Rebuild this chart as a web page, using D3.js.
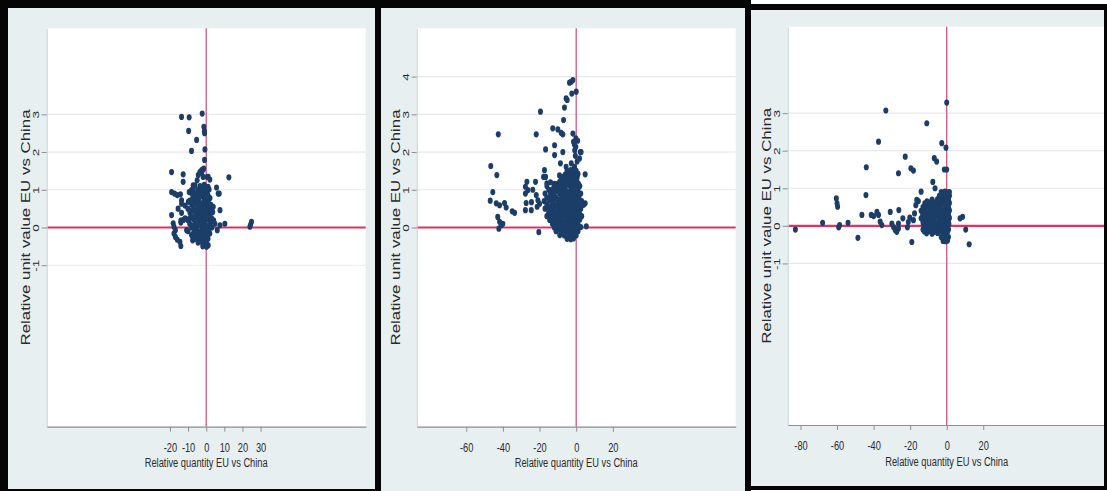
<!DOCTYPE html>
<html>
<head>
<meta charset="utf-8">
<script src="https://cdn.jsdelivr.net/npm/d3@7/dist/d3.min.js"></script>
<style>
  html, body { margin: 0; padding: 0; background: #ffffff; }
  svg { display: block; }
  text { font-family: "Liberation Sans", Arial, "DejaVu Sans", sans-serif; fill: #2a2a2a; }
</style>
</head>
<body>
<svg id="chart" width="1107" height="491"></svg>
<script>
// ---------------- DATA ----------------
const xAxisTitle = "Relative quantity EU vs China";
const yAxisTitle = "Relative unit value EU vs China";

const p1XTicks = [-20, -10, 0, 10, 20, 30];
const p1YTicks = [-1, 0, 1, 2, 3];
const p2XTicks = [-60, -40, -20, 0, 20];
const p2YTicks = [0, 1, 2, 3, 4];
const p3XTicks = [-80, -60, -40, -20, 0, 20];
const p3YTicks = [-1, 0, 1, 2, 3];

// Panel 1: scattered points
const p1Outer = [
  [-13.6,2.93],[-9.4,2.92],[-2.2,3.02],[-9.7,2.56],[-1.3,2.67],[-1.0,2.55],[-0.9,2.5],[-5.3,2.32],
  [-8.1,2.03],[-0.7,2.07],[-0.9,1.79],[-1.4,1.56],[-2.2,1.5],[-2.8,1.45],[-19.1,1.47],[-12.7,1.41],
  [-12.7,1.21],[0.6,1.34],[12.5,1.33],[-4.4,1.39],[2.0,1.27],[5.7,1.06],[6.6,0.9],[-19.1,0.94],
  [-17.5,0.9],[-16.0,0.86],[-14.2,0.88],[-13.6,0.72],[-15.5,0.5],[7.6,0.46],[2.0,0.53],[-19.1,0.33],
  [-18.2,0.11],[-17.8,0.02],[-17.0,-0.07],[-17.8,-0.16],[-17.0,-0.25],[-16.0,-0.32],[-14.5,-0.38],
  [-14.0,-0.49],[7.6,0.06],[10.3,0.1],[24.1,0.02],[25.0,0.15],[24.5,0.08],[0.6,-0.47],[-1.9,-0.5],
  [6.1,-0.07],[-13.6,0.63],[-11.7,0.58],[-9.9,0.68],[-9.4,0.94],[-8.1,0.99],[-7.2,1.12],[-5.0,1.25],
  [-3.5,1.47],[-2.5,1.52],[-1.7,1.34],[1.1,1.34],[7.2,0.9],[3.9,0.55],[3.0,0.24],[4.8,0.1],
  [2.0,-0.16],[-1.7,-0.42],[1.1,-0.47],[0.2,-0.51],[-4.4,-0.34],[-3.5,-0.25],[-6.2,-0.16],
  [-11.6,0.24],[-12.6,0.2],[-13.6,0.39],[-14.0,0.18],[-7.2,-0.29],[-7.5,-0.34],[-10.8,-0.07],[-14.0,0.13]
];
// Panel 1: dense core
const p1Core = [
  [-6.2,1.12],[-3.4,1.1],[-1.1,1.13],[1.0,1.08],
  [-7.1,1.02],[-4.6,1.0],[-2.4,1.03],[-0.4,0.99],[1.6,1.01],
  [-8.2,0.92],[-5.9,0.9],[-3.1,0.93],[-1.6,0.89],[0.5,0.91],
  [-7.4,0.81],[-5.1,0.79],[-2.0,0.82],[0.1,0.8],[2.1,0.78],
  [-9.1,0.71],[-6.6,0.7],[-4.0,0.72],[-1.1,0.69],[1.2,0.71],
  [-8.0,0.6],[-5.4,0.62],[-3.0,0.59],[-0.6,0.61],[2.6,0.6],
  [-10.1,0.5],[-7.1,0.51],[-4.4,0.49],[-2.1,0.5],[0.4,0.52],
  [-9.0,0.4],[-6.1,0.41],[-3.6,0.39],[-1.0,0.4],[1.4,0.38],[3.6,0.41],
  [-8.1,0.3],[-5.0,0.31],[-2.4,0.29],[0.1,0.3],[2.0,0.32],
  [-10.2,0.2],[-7.0,0.21],[-4.1,0.19],[-1.6,0.2],[1.1,0.22],[4.1,0.19],
  [-9.1,0.1],[-6.0,0.11],[-3.1,0.09],[-0.4,0.1],[2.4,0.12],
  [-8.0,0.0],[-5.1,0.01],[-2.1,-0.01],[0.6,0.02],[3.1,0.0],
  [-10.0,-0.1],[-6.4,-0.09],[-4.0,-0.11],[-1.1,-0.1],[1.5,-0.08],
  [-8.1,-0.2],[-5.0,-0.21],[-2.6,-0.19],[0.0,-0.2],
  [-6.1,-0.3],[-3.5,-0.31],[-1.0,-0.29],[1.0,-0.3],
  [-4.5,-0.4],[-2.0,-0.41],[0.1,-0.39]
];
const p1Fill = [
  [-6.5,0.85],[-4.0,0.86],[-1.0,0.84],[1.0,0.85],
  [-7.5,0.65],[-5.0,0.66],[-2.0,0.64],[0.5,0.65],
  [-8.0,0.45],[-5.2,0.46],[-2.8,0.44],[-0.2,0.45],[2.5,0.46],
  [-9.0,0.25],[-6.0,0.26],[-3.0,0.24],[-0.8,0.25],[1.6,0.26],
  [-7.0,0.05],[-4.0,0.06],[-1.2,0.04],[1.8,0.05],
  [-7.0,-0.15],[-3.4,-0.14],[-1.8,-0.16],[0.8,-0.15]
];

// Panel 2: scattered points
const p2Outer = [
  [-3.65,3.84],[-1.8,3.91],[-2.4,3.55],[0.0,3.6],[-4.9,3.38],[-6.4,3.18],[-6.9,2.85],[-19.5,3.07],
  [-12.8,2.63],[-10.0,2.6],[-8.2,2.51],[-7.3,2.47],[-21.8,2.47],[-42.5,2.47],[-1.8,2.49],[-0.2,2.36],
  [-1.5,2.27],[-0.2,2.14],[-0.8,2.05],[-11.8,2.18],[-11.8,1.92],[-16.7,2.07],[-7.3,2.0],[2.7,2.0],
  [1.8,1.83],[4.9,1.41],[-46.6,1.63],[-43.3,1.39],[-45.5,0.94],[-46.9,0.71],[-43.6,0.64],[-41.8,0.59],
  [-39.1,0.65],[-38.2,0.53],[-34.9,0.43],[-33.6,0.39],[-42.8,0.28],[-41.8,0.15],[-40.9,0.06],[-40.0,0.1],
  [-42.2,-0.03],[-26.9,1.21],[-27.7,1.08],[-26.4,0.99],[-27.7,0.9],[-27.3,0.65],[-27.7,0.46],[-23.7,1.0],
  [-24.4,0.67],[-24.5,0.46],[-21.8,0.86],[-20.9,0.72],[-21.3,0.55],[-20.0,0.63],[-20.4,-0.12],[5.5,0.03],
  [4.9,0.64],[-8.6,1.7],[-5.5,3.42],[-2.7,3.86],[-22.2,1.21],
  [-2.7,1.7],[-0.9,1.61],[-1.8,1.52],[0.3,1.43],[-2.2,1.34],[-0.4,1.25],[0.9,1.17],[-5.5,1.61],
  [-4.6,1.34],[-6.4,1.25],[-7.3,1.08],[-9.1,1.38],[-10.0,1.16],[-17.3,1.52],[-16.7,1.34],[-16.0,1.17],
  [-11.8,1.16],[-12.8,1.0],[-0.5,1.9],[0.8,2.3],[-1.0,2.2],[0.5,1.75],[2.2,2.0],[-17.8,1.34]
];
// Panel 2: dense core
const p2Core = [
  [-5.0,1.5],[-3.0,1.52],[-1.5,1.48],[0.0,1.5],
  [-6.0,1.4],[-4.0,1.41],[-2.0,1.39],[-0.5,1.4],[1.0,1.42],
  [-8.0,1.3],[-5.0,1.31],[-3.0,1.29],[-1.0,1.3],[0.5,1.32],
  [-14.0,1.2],[-9.0,1.21],[-6.0,1.19],[-3.5,1.2],[-1.5,1.22],[0.5,1.2],
  [-16.0,1.1],[-12.0,1.11],[-10.0,1.09],[-7.0,1.1],[-4.0,1.12],[-2.0,1.1],[0.0,1.09],[2.0,1.1],
  [-15.0,1.0],[-13.0,1.01],[-11.0,0.99],[-8.5,1.0],[-6.0,1.02],[-3.0,1.0],[-1.0,0.99],[1.0,1.01],
  [-17.0,0.9],[-14.0,0.91],[-12.0,0.89],[-9.0,0.9],[-7.0,0.92],[-4.5,0.9],[-2.0,0.89],[0.0,0.91],[2.5,0.9],
  [-16.0,0.8],[-13.5,0.81],[-11.0,0.79],[-8.0,0.8],[-5.5,0.82],[-3.0,0.8],[-1.0,0.79],[1.5,0.81],
  [-17.5,0.7],[-15.0,0.71],[-12.5,0.69],[-10.0,0.7],[-7.5,0.72],[-5.0,0.7],[-2.5,0.69],[0.0,0.71],[3.0,0.7],
  [-16.0,0.6],[-13.0,0.61],[-11.0,0.59],[-8.5,0.6],[-6.0,0.62],[-3.5,0.6],[-1.0,0.59],[1.5,0.61],[4.0,0.6],
  [-17.0,0.5],[-14.5,0.51],[-12.0,0.49],[-9.5,0.5],[-7.0,0.52],[-4.5,0.5],[-2.0,0.49],[0.5,0.51],[2.5,0.5],
  [-15.0,0.4],[-13.0,0.41],[-10.5,0.39],[-8.0,0.4],[-5.5,0.42],[-3.0,0.4],[-0.5,0.39],[1.5,0.41],
  [-16.0,0.3],[-13.5,0.31],[-11.0,0.29],[-9.0,0.3],[-6.5,0.32],[-4.0,0.3],[-1.5,0.29],[0.5,0.31],[3.0,0.3],
  [-14.5,0.2],[-12.0,0.21],[-10.0,0.19],[-7.5,0.2],[-5.0,0.22],[-2.5,0.2],[0.0,0.19],[2.0,0.21],
  [-13.0,0.1],[-11.0,0.11],[-8.5,0.09],[-6.0,0.1],[-3.5,0.12],[-1.0,0.1],[1.0,0.09],
  [-12.0,0.0],[-9.5,0.01],[-7.0,-0.01],[-4.5,0.0],[-2.0,0.02],[0.5,0.0],[2.5,0.01],
  [-11.0,-0.1],[-8.0,-0.09],[-5.5,-0.11],[-3.0,-0.1],[-1.0,-0.08],[1.0,-0.1],
  [-9.0,-0.2],[-6.5,-0.21],[-4.0,-0.19],[-2.0,-0.2],[0.0,-0.21],
  [-5.0,-0.3],[-3.0,-0.31],[-1.5,-0.29]
];
const p2Fill = [
  [-6.8,1.35],[-4.2,1.36],[-2.2,1.34],[0.2,1.35],
  [-8.2,1.15],[-5.2,1.16],[-3.2,1.14],[-1.2,1.15],[1.2,1.16],
  [-11.8,0.95],[-9.8,0.96],[-7.8,0.94],[-5.2,0.95],[-2.2,0.96],[0.2,0.95],
  [-14.2,0.75],[-12.2,0.76],[-9.2,0.74],[-6.2,0.75],[-4.2,0.76],[-1.8,0.74],[0.8,0.75],
  [-15.2,0.55],[-10.2,0.56],[-8.2,0.54],[-5.2,0.55],[-2.8,0.56],[-0.2,0.54],[1.2,0.55],
  [-14.2,0.35],[-12.2,0.36],[-10.2,0.34],[-7.8,0.35],[-5.2,0.36],[-2.8,0.34],[-0.8,0.35],[1.8,0.36],
  [-12.2,0.15],[-9.2,0.16],[-6.8,0.14],[-4.2,0.15],[-1.8,0.16],[0.2,0.15],
  [-10.2,-0.05],[-8.2,-0.04],[-6.2,-0.06],[-3.8,-0.05],[-1.2,-0.04],[0.8,-0.05]
];

// Panel 3: scattered points
const p3Outer = [
  [-82.8,-0.1],[-67.9,0.08],[-60.4,0.73],[-60.0,0.6],[-59.7,0.51],[-59.1,-0.04],[-58.6,0.02],[-54.0,0.08],
  [-48.6,-0.32],[-46.4,0.29],[-44.0,1.56],[-44.2,0.82],[-41.3,0.29],[-40.0,0.26],[-37.3,2.24],[-38.2,0.37],
  [-37.3,0.29],[-36.4,0.11],[-35.5,0.02],[-33.3,3.07],[-26.4,1.4],[-30.9,0.37],[-30.0,0.06],[-29.1,-0.03],
  [-28.2,-0.11],[-27.3,-0.16],[-26.4,-0.07],[-26.2,0.42],[-26.4,0.06],[-24.0,0.2],[-22.7,1.84],[-21.5,-0.04],
  [-19.6,1.53],[-18.2,1.47],[-19.1,-0.43],[-18.2,0.15],[-17.6,0.33],[-16.9,0.55],[-16.4,0.69],[-14.0,0.91],
  [-10.9,2.73],[-7.6,1.17],[-6.4,1.0],[-6.8,1.8],[-5.5,1.71],[-2.7,2.2],[0.0,3.28],[-0.4,2.08],
  [-1.3,1.5],[0.0,1.5],[7.3,0.2],[8.7,0.24],[10.4,-0.1],[12.3,-0.49],[-15.5,0.66],[-21.0,0.1],[-20.2,0.22]
];
// Panel 3: dense core
const p3Core = [
  [-3.0,0.9],[-1.0,0.91],[0.5,0.89],[1.5,0.9],
  [-4.0,0.8],[-2.0,0.81],[0.0,0.79],[1.5,0.8],
  [-8.0,0.7],[-5.0,0.71],[-3.0,0.69],[-1.0,0.7],[1.0,0.72],
  [-12.0,0.6],[-9.5,0.61],[-7.0,0.59],[-4.5,0.6],[-2.0,0.62],[0.0,0.6],[1.5,0.61],
  [-13.0,0.5],[-11.0,0.51],[-8.5,0.49],[-6.0,0.5],[-3.5,0.52],[-1.0,0.5],[1.0,0.49],
  [-14.0,0.4],[-12.0,0.41],[-9.5,0.39],[-7.0,0.4],[-5.0,0.42],[-2.5,0.4],[0.0,0.39],[1.5,0.41],
  [-13.0,0.3],[-10.5,0.31],[-8.0,0.29],[-6.0,0.3],[-3.5,0.32],[-1.0,0.3],[1.0,0.29],
  [-14.0,0.2],[-12.0,0.21],[-9.5,0.19],[-7.0,0.2],[-4.5,0.22],[-2.0,0.2],[0.0,0.19],[1.5,0.21],
  [-13.0,0.1],[-11.0,0.11],[-8.5,0.09],[-6.0,0.1],[-3.5,0.12],[-1.0,0.1],[1.0,0.09],
  [-12.0,0.0],[-9.5,0.01],[-7.0,-0.01],[-5.0,0.0],[-2.5,0.02],[0.0,0.0],
  [-13.0,-0.1],[-10.5,-0.09],[-8.0,-0.11],[-5.5,-0.1],[-3.0,-0.08],[-1.0,-0.1],[1.0,-0.09],
  [-11.0,-0.2],[-8.0,-0.21],[-5.0,-0.19],[-2.0,-0.2],[0.0,-0.21],
  [-3.0,-0.3],[-1.5,-0.31],[0.0,-0.29],[1.0,-0.3],
  [-2.0,-0.4],[-0.5,-0.41],[0.5,-0.39]
];
const p3Fill = [
  [-2.8,0.85],[-0.5,0.86],[1.0,0.84],
  [-10.8,0.65],[-8.2,0.66],[-5.8,0.64],[-3.2,0.65],[-0.8,0.66],[0.8,0.64],
  [-12.8,0.45],[-10.2,0.46],[-8.2,0.44],[-5.8,0.45],[-3.8,0.46],[-1.2,0.44],[0.8,0.45],
  [-13.2,0.25],[-11.2,0.26],[-8.8,0.24],[-6.8,0.25],[-4.2,0.26],[-1.8,0.24],[0.5,0.25],
  [-12.8,0.05],[-10.2,0.06],[-7.8,0.04],[-5.8,0.05],[-3.2,0.06],[-0.8,0.04],[1.2,0.05],
  [-12.2,-0.15],[-9.2,-0.14],[-6.8,-0.16],[-4.2,-0.15],[-1.5,-0.14],[0.5,-0.15]
];

// ---------------- LAYOUT ----------------
const panels = [
  { bg:[8,8,367,483], plot:{l:46.7,r:365.7,t:28.3,b:426.7}, xDomain:[-88,88], yDomain:[-5.28,5.28],
    xTicks:p1XTicks, yTicks:p1YTicks, data:p1Outer.concat(p1Core, p1Fill), ylabX:36, ytitleX:25.5, xlabY:452, xtitleY:467 },
  { bg:[381,8,364,483], plot:{l:416.7,r:735.7,t:28.3,b:426.7}, xDomain:[-87,87], yDomain:[-5.28,5.28],
    xTicks:p2XTicks, yTicks:p2YTicks, data:p2Outer.concat(p2Core, p2Fill), ylabX:406, ytitleX:396, xlabY:452, xtitleY:467 },
  { bg:[751,10,353,476], plot:{l:787.7,r:1105.7,t:26.7,b:425}, xDomain:[-87,87], yDomain:[-5.3,5.3],
    xTicks:p3XTicks, yTicks:p3YTicks, data:p3Outer.concat(p3Core, p3Fill), ylabX:777.5, ytitleX:767, xlabY:450, xtitleY:466 }
];

const svg = d3.select("#chart");
const BG = "#e7eff1";
const NAVY = "#1b3e69";

// graph regions
panels.forEach(p => {
  svg.append("rect").attr("x", p.bg[0]).attr("y", p.bg[1]).attr("width", p.bg[2]).attr("height", p.bg[3]).attr("fill", BG);
});

panels.forEach(p => {
  const P = p.plot;
  const x = d3.scaleLinear().domain(p.xDomain).range([P.l, P.r]);
  const y = d3.scaleLinear().domain(p.yDomain).range([P.b, P.t]);
  const g = svg.append("g");

  // plot region
  g.append("rect").attr("x", P.l).attr("y", P.t).attr("width", P.r - P.l).attr("height", P.b - P.t).attr("fill", "#ffffff");

  // gridlines
  g.append("g").selectAll("line").data(p.yTicks).join("line")
    .attr("x1", P.l).attr("x2", P.r).attr("y1", d => y(d)).attr("y2", d => y(d))
    .attr("stroke", "#e6e9ea").attr("stroke-width", 1.2);

  // reference lines
  g.append("line").attr("x1", x(0)).attr("x2", x(0)).attr("y1", P.t).attr("y2", P.b)
    .attr("stroke", "#d4567c").attr("stroke-width", 1.3);
  g.append("line").attr("x1", P.l).attr("x2", P.r).attr("y1", y(0)).attr("y2", y(0))
    .attr("stroke", "#dc3563").attr("stroke-width", 2.2);

  // x axis
  const xa = g.append("g").attr("transform", `translate(0,${P.b})`)
    .call(d3.axisBottom(x).tickValues(p.xTicks).tickSize(5).tickSizeOuter(0));
  xa.select(".domain").attr("stroke", "#8a8f92").attr("stroke-width", 1.2);
  xa.selectAll(".tick line").attr("stroke", "#8a8f92");
  xa.selectAll(".tick text").attr("y", p.xlabY - P.b).attr("dy", 0)
    .attr("font-size", 12.5).attr("transform", "scale(0.74,1)")
    .text(d => d);

  // y axis
  const ya = g.append("g").attr("transform", `translate(${P.l},0)`)
    .call(d3.axisLeft(y).tickValues(p.yTicks).tickSize(5).tickSizeOuter(0));
  ya.select(".domain").attr("stroke", "#c9cfd1").attr("stroke-width", 1);
  ya.selectAll(".tick line").attr("stroke", "#8a8f92");
  ya.selectAll(".tick text").attr("x", 0).attr("y", 0).attr("dy", "0.35em")
    .attr("text-anchor", "middle").attr("font-size", 13.5)
    .attr("transform", `translate(${p.ylabX - P.l},0) scale(0.62,1) rotate(-90)`)
    .text(d => d);

  // axis titles
  g.append("text").attr("x", x(0)).attr("y", p.xtitleY).attr("text-anchor", "middle")
    .attr("font-size", 12.5).attr("textLength", 123).attr("lengthAdjust", "spacingAndGlyphs")
    .text(xAxisTitle);
  g.append("text").attr("transform", `translate(${p.ytitleX},${(P.t + P.b) / 2}) scale(0.82,1) rotate(-90)`)
    .attr("text-anchor", "middle").attr("dy", "0.35em").attr("font-size", 15.5)
    .attr("textLength", 236).attr("lengthAdjust", "spacingAndGlyphs")
    .text(yAxisTitle);

  // markers
  g.append("g").selectAll("ellipse").data(p.data).join("ellipse")
    .attr("cx", d => x(d[0])).attr("cy", d => y(d[1]))
    .attr("rx", 2.5).attr("ry", 3.1).attr("fill", NAVY);
});

// black frames
const frames = [
  [0,0,751,8],      // top band panels 1-2
  [0,0,8,491],      // left border
  [375,0,6,491],    // divider 1
  [745,0,6,491],    // divider 2
  [745,4,362,6],    // top band panel 3
  [1104,4,3,486],   // right border
  [745,486,362,4],  // bottom panel 3
  [0,489,381,2]     // bottom panel 1
];
svg.append("g").selectAll("rect").data(frames).join("rect")
  .attr("x", d => d[0]).attr("y", d => d[1]).attr("width", d => d[2]).attr("height", d => d[3])
  .attr("fill", "#050505");
</script>
</body>
</html>
